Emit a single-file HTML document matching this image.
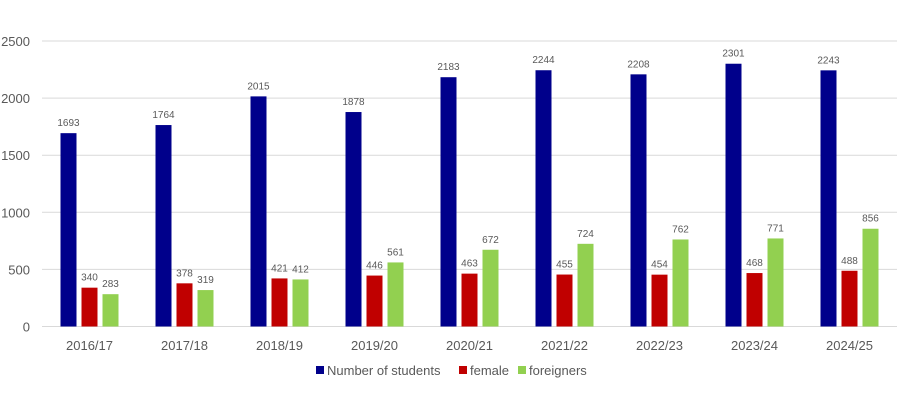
<!DOCTYPE html>
<html><head><meta charset="utf-8"><style>
body{margin:0;background:#fff;font-family:"Liberation Sans",sans-serif}
svg text{font-family:"Liberation Sans",sans-serif;fill:#595959}
</style></head><body>
<svg id="c" width="900" height="413"></svg>
<script>
const categories=["2016/17","2017/18","2018/19","2019/20","2020/21","2021/22","2022/23","2023/24","2024/25"];
const students=[1693,1764,2015,1878,2183,2244,2208,2301,2243];
const female=[340,378,421,446,463,455,454,468,488];
const foreigners=[283,319,412,561,672,724,762,771,856];
const yTicks=[0,500,1000,1500,2000,2500];
const seriesNames=["Number of students","female","foreigners"];
const colors=["#00008B","#C00000","#92D050"];
const svg=document.getElementById('c');const NS="http://www.w3.org/2000/svg";
const x0=42,x1=897,y0=326.5,yTop=41;
const y=v=>y0-(v/2500)*(y0-yTop);
const cw=(x1-x0)/categories.length;
const cx=i=>x0+cw*(i+0.5);
function el(t,a,txt){const e=document.createElementNS(NS,t);for(const k in a)e.setAttribute(k,a[k]);if(txt!=null)e.textContent=txt;svg.appendChild(e);return e;}
yTicks.forEach(t=>{
const g=el('line',{x1:x0,x2:x1,y1:y(t),y2:y(t),stroke:'#d9d9d9','stroke-width':1});


const l=el('text',{x:30,y:y(t)+5,'text-anchor':'end','font-size':13},t);


});
const series=[students,female,foreigners];const offs=[-21,0,21];
categories.forEach((c,i)=>{
series.forEach((s,j)=>{
const bx=cx(i)+offs[j]-8;
const r=el('rect',{x:bx,y:y(s[i]),width:16,height:y0-y(s[i]),fill:colors[j]});


const t=el('text',{x:bx+8,y:y(s[i])-7,'text-anchor':'middle','font-size':10,fill:'#404040'},s[i]);


});
const l=el('text',{x:cx(i),y:350,'text-anchor':'middle','font-size':13},c);


});
const lx=[316,459,518];
seriesNames.forEach((n,j)=>{
const r=el('rect',{x:lx[j],y:366,width:8,height:8,fill:colors[j]});


const t=el('text',{x:lx[j]+11,y:375,'font-size':13},n);


});
</script>
</body></html>
